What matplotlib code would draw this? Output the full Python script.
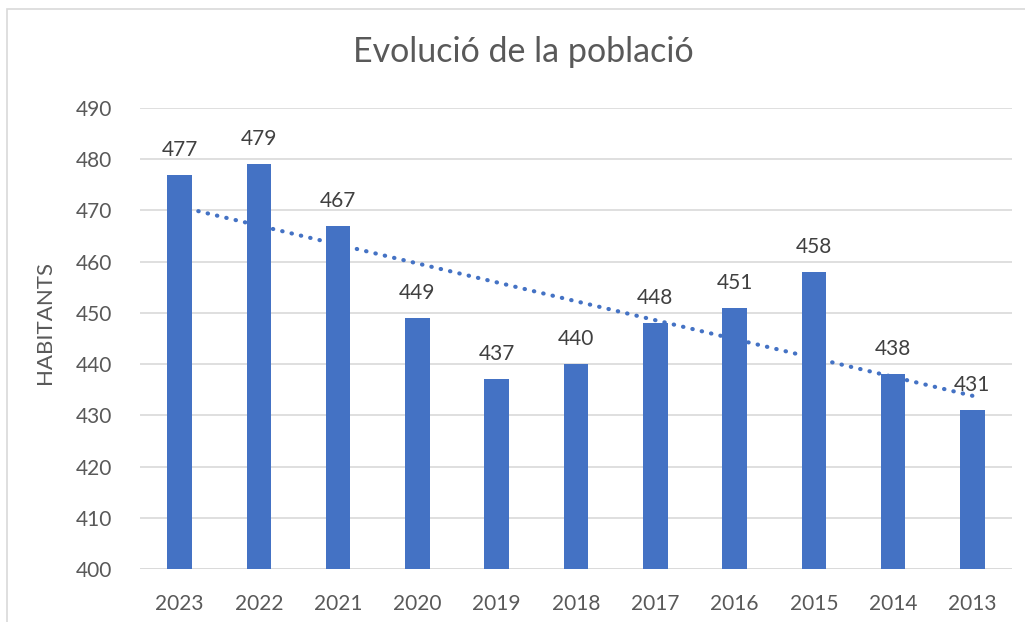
import matplotlib
matplotlib.use("Agg")
import matplotlib.pyplot as plt
import numpy as np
from matplotlib.patches import Rectangle

years = ["2023", "2022", "2021", "2020", "2019", "2018", "2017", "2016", "2015", "2014", "2013"]
habitants = [477, 479, 467, 449, 437, 440, 448, 451, 458, 438, 431]
title = "Evolució de la població"
ylabel = "HABITANTS"

plt.rcParams['font.family'] = ['Lato', 'DejaVu Sans']

W, H = 1025, 622
fig = plt.figure(figsize=(W / 100, H / 100), dpi=100)
ax = fig.add_axes([140 / W, 1 - 569 / H, (1012 - 140) / W, (569 - 108) / H])

blue = "#4472C4"
x = np.arange(len(years))
ax.bar(x, np.array(habitants) - 400, bottom=400, width=0.31, color=blue, zorder=3)

# linear trendline
coef = np.polyfit(x, habitants, 1)
ax.plot(x, np.polyval(coef, x), linestyle=(0, (0.1, 2.2)), dash_capstyle='round',
        color=blue, linewidth=3, zorder=4)

for xi, v in zip(x, habitants):
    ax.annotate(str(v), (xi, v), xytext=(0, 18), textcoords='offset points',
                ha='center', va='center', fontsize=15, color='#404040', zorder=5)

ax.set_xlim(-0.5, len(years) - 0.5)
ax.set_ylim(400, 490)
ax.set_yticks(np.arange(400, 491, 10))
ax.set_xticks(x)
ax.set_xticklabels(years)
ax.tick_params(axis='both', length=0, labelsize=15, labelcolor='#595959')
ax.tick_params(axis='x', pad=18)
ax.tick_params(axis='y', pad=20)
ax.grid(axis='y', color='#D9D9D9', linewidth=1.2, zorder=0)
for s in ax.spines.values():
    s.set_visible(False)
ax.axhline(400, color='#D9D9D9', linewidth=1.2, zorder=1)

fig.text(45 / W, 1 - 323 / H, ylabel, rotation=90, ha='center', va='center',
         fontsize=16, color='#595959')
fig.text(523 / W, 1 - 52 / H, title, ha='center', va='center',
         fontsize=24.5, color='#595959')

fig.patches.append(Rectangle((7 / W, -0.1), 1.2, 1 - 9 / H + 0.1, transform=fig.transFigure,
                             fill=False, edgecolor='#D9D9D9', linewidth=1.2))

fig.savefig("out.png", dpi=100)
